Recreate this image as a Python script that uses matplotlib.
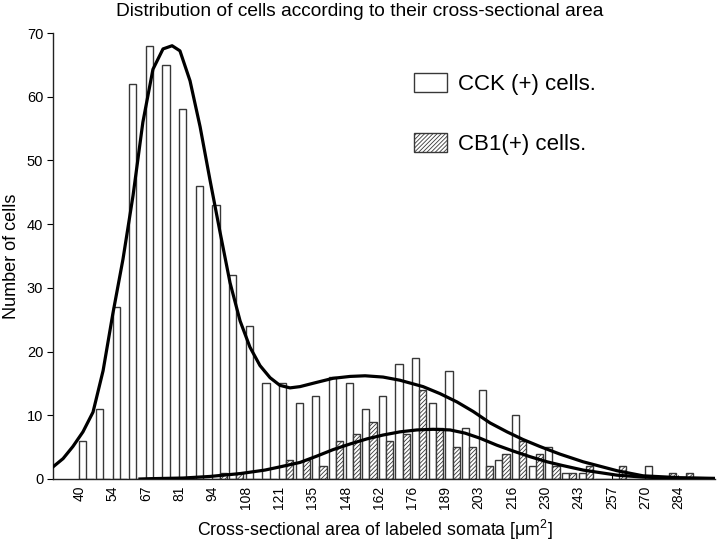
"""
Distribution of CCK(+) and CB1(+) cells by cross-sectional area:
paired histogram with fitted curves.
"""

import numpy as np
import matplotlib
matplotlib.use("Agg")
import matplotlib.pyplot as plt

plt.rcParams["font.family"] = ["Liberation Sans", "DejaVu Sans"]
plt.rcParams["mathtext.fontset"] = "custom"
plt.rcParams["mathtext.rm"] = "Liberation Sans"
plt.rcParams["hatch.linewidth"] = 0.6

# bins: 37 bins, 40 .. 284 um^2 in 36 steps
bin_start = 40.0
bin_width = 244.0 / 36

cck_counts = [6, 11, 27, 62, 68, 65, 58, 46, 43, 32, 24, 15, 15, 12, 13, 16,
              15, 11, 13, 18, 19, 12, 17, 8, 14, 3, 10, 2, 5, 1, 1, 0, 0, 0,
              2, 0, 0]
cb1_counts = [0, 0, 0, 0, 0, 0, 0, 0, 1, 1, 0, 0, 3, 3, 2, 6,
              7, 9, 6, 7, 14, 8, 5, 5, 2, 4, 6, 4, 2, 1, 2, 0, 2, 0,
              0, 1, 1]

tick_labels = ["40", "54", "67", "81", "94", "108", "121", "135", "148",
               "162", "176", "189", "203", "216", "230", "243", "257",
               "270", "284"]

# fitted curves
cck_fit_x = [29.3, 33.4, 37.4, 41.5, 45.6, 49.7, 53.7, 57.8, 61.9, 65.9,
             70.0, 74.1, 77.8, 81.0, 85.1, 89.2, 93.2, 97.3, 101.4, 105.5,
             109.5, 113.6, 117.7, 121.7, 125.8, 129.9, 136.0, 143.3, 150.3,
             156.4, 163.7, 170.6, 180.0, 186.9, 193.8, 200.4, 207.3, 214.2,
             220.7, 227.6, 235.8, 245.2, 252.1, 259.0, 269.6, 284.7, 298.9]
cck_fit_y = [1.9, 3.2, 5.1, 7.4, 10.5, 17.0, 26.0, 34.5, 44.5, 56.0,
             64.3, 67.5, 68.0, 67.2, 62.5, 55.3, 47.0, 38.8, 30.8, 24.8,
             20.7, 17.8, 15.9, 14.7, 14.3, 14.5, 15.1, 15.8, 16.1,
             16.2, 16.0, 15.5, 14.5, 13.4, 12.1, 10.6, 8.8, 7.4,
             6.2, 5.1, 3.9, 2.7, 2.0, 1.3, 0.5, 0.2, 0.1]

cb1_fit_x = [64.7, 68.8, 82.2, 93.2, 105.5, 115.6, 121.7, 129.9, 136.8,
             143.3, 150.3, 157.2, 163.7, 170.6, 177.5, 184.1, 191.0, 197.1,
             203.2, 210.1, 216.6, 223.6, 230.5, 237.0, 245.2, 252.1, 259.0,
             269.6, 284.7, 298.9]
cb1_fit_y = [0.0, 0.05, 0.15, 0.4, 0.85, 1.4, 1.9, 2.6, 3.6,
             4.6, 5.5, 6.3, 6.9, 7.4, 7.7, 7.8, 7.7, 7.2,
             6.4, 5.3, 4.4, 3.5, 2.7, 2.1, 1.4, 1.0, 0.6,
             0.3, 0.1, 0.05]


def main():
    fig = plt.figure(figsize=(7.2, 5.41), dpi=100)
    ax = fig.add_axes([53 / 720, 1 - 479 / 541, 662 / 720, 446 / 541])

    left = bin_start + bin_width * np.arange(len(cck_counts))
    bar_w = 0.43 * bin_width
    edge = "#383838"

    cck_bars = ax.bar(left, cck_counts, width=bar_w, align="edge",
                      facecolor="white", edgecolor=edge, linewidth=1.0,
                      zorder=2)
    cb1_bars = ax.bar(left + bar_w, cb1_counts, width=bar_w, align="edge",
                      facecolor="white", edgecolor=edge, linewidth=1.0,
                      hatch="////////", zorder=2)

    ax.plot(cck_fit_x, cck_fit_y, color="black", linewidth=2.3, zorder=3,
            solid_joinstyle="round")
    ax.plot(cb1_fit_x, cb1_fit_y, color="black", linewidth=2.3, zorder=3,
            solid_joinstyle="round")

    ax.set_xlim(29.3, 298.9)
    ax.set_ylim(0, 70)

    tick_pos = bin_start + 2 * bin_width * np.arange(len(tick_labels))
    ax.set_xticks(tick_pos)
    ax.set_xticklabels(tick_labels, rotation=90, fontsize=10)
    ax.tick_params(axis="x", direction="in", length=3, width=0.8, pad=5)
    ax.set_yticks(np.arange(0, 71, 10))
    ax.tick_params(axis="y", direction="out", length=4, width=0.8,
                   labelsize=10.5, pad=3)

    for side in ("top", "right"):
        ax.spines[side].set_visible(False)
    for side in ("left", "bottom"):
        ax.spines[side].set_linewidth(1.0)
        ax.spines[side].set_color("#222222")

    ax.set_xlabel("Cross-sectional area of labeled somata [\u03bcm$^2$]",
                  fontsize=12.8, va="center")
    ax.xaxis.set_label_coords(0.486, -0.114)
    ax.set_ylabel("Number of cells", fontsize=13, va="center")
    ax.yaxis.set_label_coords(-0.062, 0.5)

    fig.text(0.5, 1 - 12 / 541,
             "Distribution of cells according to their cross-sectional area",
             ha="center", va="center", fontsize=13.8)

    ax.legend([cck_bars, cb1_bars], ["CCK (+) cells.", "CB1(+) cells."],
              loc="upper left", bbox_to_anchor=(414 / 720, 1 - 73 / 541),
              bbox_transform=fig.transFigure, frameon=False, fontsize=16,
              handlelength=1.5, handleheight=0.95, handletextpad=0.5,
              labelspacing=1.7, borderpad=0, borderaxespad=0)

    fig.savefig("out.png", dpi=100)


if __name__ == "__main__":
    main()
